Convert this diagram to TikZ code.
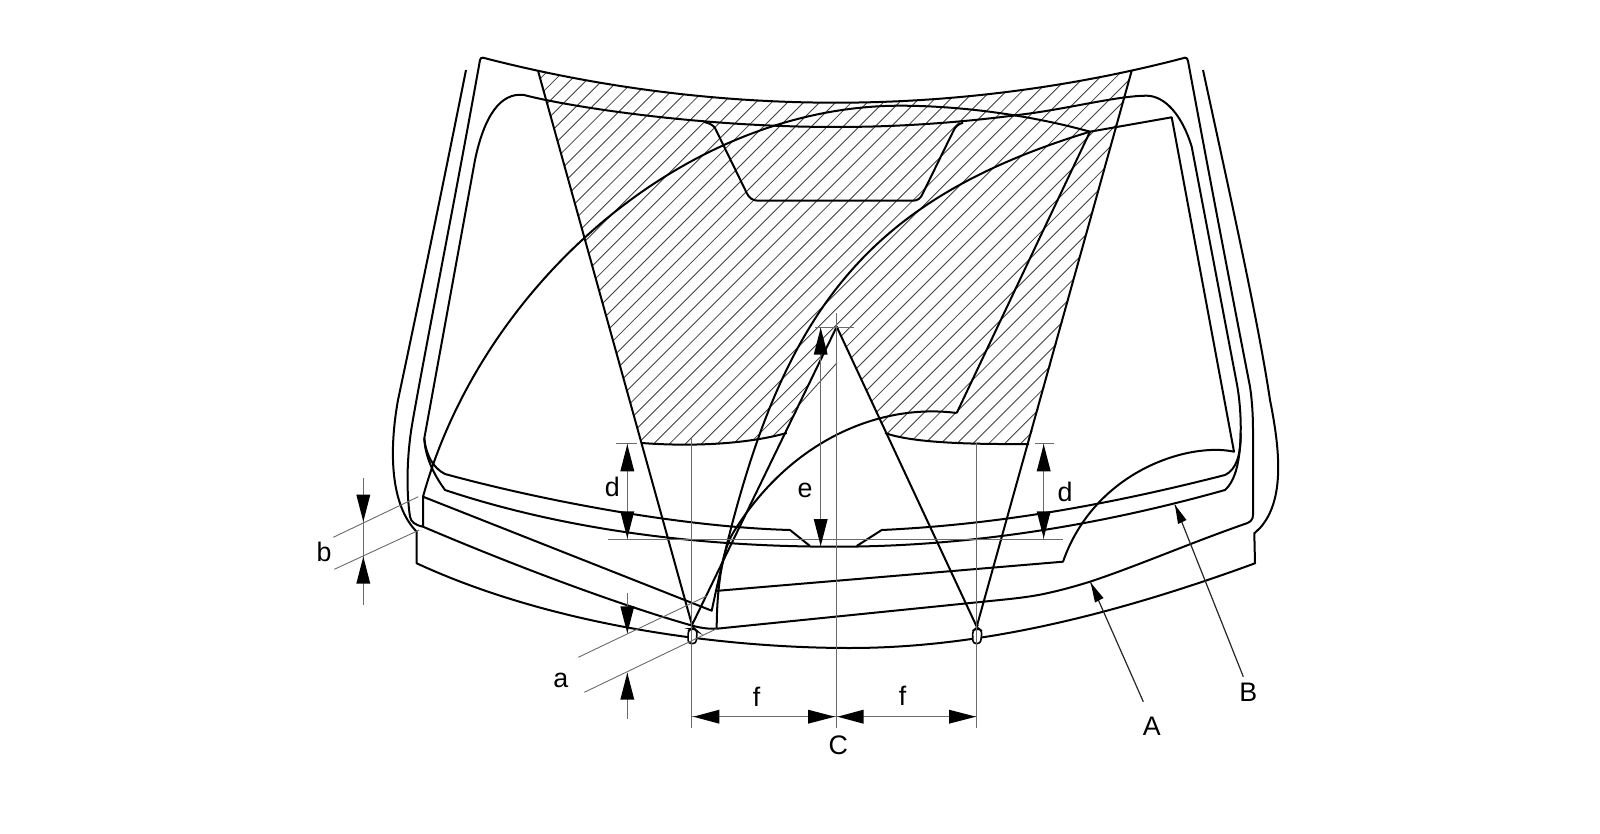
\documentclass[tikz,border=0pt]{standalone}
\usepackage{fontspec}
\setmainfont{Liberation Sans}
\definecolor{thinc}{gray}{0.42}
\tikzset{
  x=0.5pt,y=-0.5pt,
  body/.style={line width=1pt,black,line join=round},
  thinline/.style={line width=0.45pt,thinc},
  leaderline/.style={line width=0.6pt,black!85},
  hatchline/.style={line width=0.42pt,black!75},
  lab/.style={font=\fontsize{13.4}{16}\selectfont,inner sep=0pt,text=black},
  tipfill/.style={fill=black,draw=none},
}
\newcommand{\arrU}[2]{\fill[tipfill] (#1,#2) -- (#1+7,#2+27) -- (#1-7,#2+27) -- cycle;}
\newcommand{\arrD}[2]{\fill[tipfill] (#1,#2) -- (#1+7,#2-27) -- (#1-7,#2-27) -- cycle;}
\newcommand{\arrL}[2]{\fill[tipfill] (#1,#2) -- (#1+26,#2-7) -- (#1+26,#2+7) -- cycle;}
\newcommand{\arrR}[2]{\fill[tipfill] (#1,#2) -- (#1-27,#2-7) -- (#1-27,#2+7) -- cycle;}
\begin{document}
\begin{tikzpicture}
\useasboundingbox (0,0) rectangle (1600,834);
\fill[white] (0,0) rectangle (1600,834);

% hatching
\begin{scope}
\clip (483,57.7) .. controls (600,88) and (720,102.7) .. (836,102.7)
  .. controls (950,102.7) and (1070,88) .. (1185,57.7)
  -- (1131.7,70.7) -- (1029,444)
  .. controls (960,444.5) and (910,442) .. (885,433)
  -- (836.7,326.7) -- (786.7,433)
  .. controls (740,446) and (680,446) .. (641.7,443)
  -- (538,70.7) -- cycle;
\foreach \k in {-20,...,40} {
  \pgfmathsetmacro{\s}{906+15.95*\k}
  \draw[hatchline] (\s-500,500) -- (\s,0);
}
\end{scope}
\draw[hatchline] (837,362.7) -- (791.7,413);

% outermost pillars and lower edge
\draw[body] (466,70) .. controls (440,200) and (415,320) .. (398,400)
  .. controls (389,450) and (390,505) .. (416.7,531.7)
  -- (416.7,563.3)
  .. controls (550,625) and (720,648) .. (850,648)
  .. controls (970,648) and (1100,620) .. (1255,563.3)
  -- (1254.3,533.3) -- (1260,528)
  .. controls (1285,500) and (1280,450) .. (1270,400)
  .. controls (1258,320) and (1230,195) .. (1203,70);

% hood / body closed outline
\draw[body] (1253,515) -- (1253,430)
  .. controls (1253,415) and (1252,400) .. (1250,386.7)
  .. controls (1235,310) and (1210,180) .. (1188,61)
  .. controls (1187.5,58.5) and (1186.5,57.5) .. (1185,57.7)
  .. controls (1070,88) and (950,102.7) .. (836,102.7)
  .. controls (720,102.7) and (600,88) .. (483,57.7)
  .. controls (481,57.4) and (480.5,58.5) .. (480,60)
  .. controls (455,200) and (425,350) .. (412,425)
  .. controls (407,455) and (406,490) .. (410,516.7)
  .. controls (411,522) and (415,525) .. (423,526.7)
  .. controls (520,568) and (620,605) .. (690,625)
  .. controls (700,628) and (708,629) .. (716.7,628.7)
  -- (1000,600)
  .. controls (1020,598) and (1035,596) .. (1046.7,593.3)
  .. controls (1062,590) and (1076,586) .. (1090,581.7)
  .. controls (1140,565) and (1190,543) .. (1246.7,523.3)
  .. controls (1250,522) and (1253,520) .. (1253,515);

% windscreen opening
\draw[body] (424.3,438.3) -- (475,160)
  .. controls (484,117) and (500,92) .. (524,95)
  .. controls (570,107) and (700,127) .. (836,127)
  .. controls (910,127) and (975,121) .. (1033,113)
  .. controls (1075,107) and (1120,95.7) .. (1146.7,95.7)
  .. controls (1165,96) and (1182,115) .. (1191.7,146.7)
  -- (1236.7,383)
  .. controls (1240,400) and (1241,420) .. (1240.7,433)
  .. controls (1240,460) and (1236,480) .. (1225,490)
  .. controls (1090,528) and (960,546.7) .. (836,546.7)
  .. controls (680,546.7) and (550,525) .. (445,490)
  .. controls (432,472) and (425,455) .. (424.3,438.3);
% inner line with notch
\draw[body] (424.3,438.3) .. controls (426,455) and (433,468) .. (445,474)
  .. controls (540,500) and (680,527) .. (790,530)
  -- (810,546) (856.7,546) -- (881.7,530)
  .. controls (990,525) and (1100,507) .. (1225,475)
  .. controls (1236,470) and (1241,455) .. (1240.7,433);

% mirror base
\draw[body] (704,122) .. controls (709,123) and (713,125) .. (715,128) -- (746.7,193)
  .. controls (749,198) and (753,200.7) .. (758,200.7)
  -- (913,200.7)
  .. controls (918,200.7) and (921,198) .. (923,193)
  -- (953,131.7)
  .. controls (955,127) and (958,124) .. (963,122.7);

% driver side swept area
\draw[body] (423,496.7) -- (711.7,610.7)
  .. controls (771.7,328.7) and (849,205) .. (1090,131.7)
  -- (1171.7,117.3) -- (1234,451.7)
  .. controls (1190,442) and (1095,470) .. (1063,561.7)
  -- (715,591);
% passenger side swept area
\draw[body] (423,526.7) -- (423,496.7)
  .. controls (480,290) and (680,106) .. (900,105.7)
  .. controls (960,105.7) and (1030,115) .. (1090,131.7)
  -- (956.7,413);
\draw[body] (956.7,413) .. controls (880,403) and (790,440) .. (733,533)
  .. controls (722,551) and (716.7,590) .. (716.7,628.7);

% vision cones and triangle
\draw[body] (538,70.7) -- (692,625) -- (836.7,326.7) -- (976.7,626.7) -- (1131.7,70.7);
\draw[body] (641.7,443) .. controls (680,446) and (740,446) .. (786.7,433);
\draw[body] (885,433) .. controls (910,442) and (960,444.5) .. (1029,444);

% washer nozzles
\draw[line width=0.8pt,fill=white,rounded corners=1.5pt] (688.2,643.5) -- (688,631) -- (690.5,629) -- (695,629) -- (697.2,631) -- (696,643.5) -- cycle;
\draw[line width=0.8pt,fill=white,rounded corners=1.5pt] (973,643.5) -- (972.5,631) -- (975,629) -- (979.5,629) -- (982,631) -- (980.5,643.5) -- cycle;

% thin dimension lines
\draw[thinline] (691.7,438) -- (691.7,727.7);
\draw[thinline] (976.7,443) -- (976.7,727.7);
\draw[thinline] (836.7,313) -- (836.7,727.7);
\draw[thinline] (691.7,716.7) -- (976.7,716.7);
\draw[thinline] (616,443.3) -- (637,443.3);
\draw[thinline] (1035,443.3) -- (1054,443.3);
\draw[thinline] (608.3,539.3) -- (1063,539.3);
\draw[thinline] (627.3,443.3) -- (627.3,539.3);
\draw[thinline] (1043.7,443.3) -- (1043.7,539.3);
\draw[thinline] (815,327) -- (854,327);
\draw[thinline] (820.7,327) -- (820.7,546);
\draw[thinline] (627.3,593.3) -- (627.3,633);
\draw[thinline] (627.3,672.7) -- (627.3,719.3);
\draw[thinline] (578.3,657.3) -- (706.7,596);
\draw[thinline] (584.3,692.3) -- (716.7,628.7);
\draw[thinline] (363.3,478.3) -- (363.3,605);
\draw[thinline] (333.3,537.3) -- (418.3,496.7);
\draw[thinline] (334.3,569.3) -- (419.3,530);

% dimension arrowheads
\arrU{627.3}{444.3} \arrD{627.3}{538.3}
\arrU{1043.7}{444.3} \arrD{1043.7}{538.3}
\arrU{820.7}{327.7} \arrD{820.7}{546}
\arrD{627.3}{633.3} \arrU{627.3}{672.7}
\arrD{363.3}{521.7} \arrU{363.3}{556.7}
\arrL{693.3}{716.7} \arrR{835}{716.7}
\arrL{837.5}{716.7} \arrR{976}{716.7}

% labels
\node[lab] (la) at (560.7,680) {a};
\node[lab] (lb) at (324,552.3) {b};
\node[lab] (ld1) at (612.3,487.3) {d};
\node[lab] (ld2) at (1065,491.7) {d};
\node[lab] (le) at (805,490.7) {e};
\node[lab] (lf1) at (756.7,696.7) {f};
\node[lab] (lf2) at (902.7,695.7) {f};
\node[lab] (lC) at (838.3,745.7) {C};
\node[lab] (lA) at (1151.7,726.7) {A};
\node[lab] (lB) at (1248.3,692.7) {B};

% leaders
\coordinate (tipA) at (1090.7,582.7);
\coordinate (tailA) at (1143.3,701.7);
\coordinate (tipB) at (1175,505);
\coordinate (tailB) at (1243.3,676.7);
\draw[leaderline] (tailA) -- (tipA);
\draw[leaderline] (tailB) -- (tipB);
\fill (tipA) -- (1103.5,598) -- (1095,602.5) -- cycle;
\fill (tipB) -- (1186.5,520) -- (1178,524) -- cycle;
\end{tikzpicture}
\end{document}
